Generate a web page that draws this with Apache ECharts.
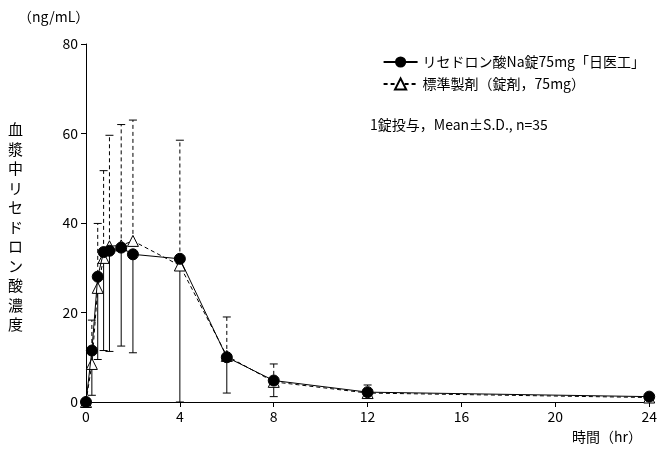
<!DOCTYPE html>
<html><head><meta charset="utf-8">
<script src="https://cdn.jsdelivr.net/npm/echarts@6/dist/echarts.min.js"></script>
<style>html,body{margin:0;padding:0;background:#fff}#c{width:660px;height:458px}</style>
</head><body><div id="c"></div>
<script>
const times = [0, 0.25, 0.5, 0.75, 1, 1.5, 2, 4, 6, 8, 12, 24];
const testMean = [0, 11.5, 28, 33.5, 33.8, 34.5, 33, 32, 10, 4.8, 2.2, 1.2];
const testSD = [0, 10, 18.5, 22, 22.5, 22, 22, 32, 8, 3.6, 1, 0.3];
const refMean = [0, 8.5, 25.5, 32.2, 34.8, 35, 36, 30.5, 10.3, 4.5, 2, 1];
const refSD = [0, 9.8, 14.4, 19.5, 24.8, 27, 27, 28, 8.7, 4, 1.8, 0.5];
const testName = 'リセドロン酸Na錠75mg「日医工」';
const refName = '標準製剤（錠剤，75mg）';

const font = '"Noto Sans CJK JP", "Noto Sans", sans-serif';

function errData(mean, sd, dir) {
  return times.map((t, i) => [t, mean[i], mean[i] + dir * sd[i]]);
}
function errRender(dashed) {
  return function (params, api) {
    const p0 = api.coord([api.value(0), api.value(1)]);
    const p1 = api.coord([api.value(0), api.value(2)]);
    if (Math.abs(p1[1] - p0[1]) < 1) return;
    const style = { stroke: '#000', lineWidth: 1, lineDash: dashed ? [4, 3] : null };
    return {
      type: 'group',
      children: [
        { type: 'line', shape: { x1: p0[0], y1: p0[1], x2: p1[0], y2: p1[1] }, style: style },
        { type: 'line', shape: { x1: p1[0] - 4, y1: p1[1], x2: p1[0] + 4, y2: p1[1] }, style: { stroke: '#000', lineWidth: 1 } }
      ]
    };
  };
}

const chart = echarts.init(document.getElementById('c'));
chart.setOption({
  animation: false,
  textStyle: { fontFamily: font },
  grid: { left: 86, right: 9, top: 44, bottom: 56 },
  xAxis: {
    type: 'value', min: 0, max: 24, interval: 4,
    axisLine: { lineStyle: { color: '#000' } },
    axisTick: { inside: false, lineStyle: { color: '#000' } },
    axisLabel: { color: '#000', fontSize: 14, fontFamily: font },
    splitLine: { show: false }
  },
  yAxis: {
    type: 'value', min: 0, max: 80, interval: 20,
    axisLine: { show: true, lineStyle: { color: '#000' } },
    axisTick: { show: true, lineStyle: { color: '#000' } },
    axisLabel: { color: '#000', fontSize: 14, fontFamily: font },
    splitLine: { show: false }
  },
  legend: {
    orient: 'vertical', right: 10, top: 50, itemGap: 8, itemWidth: 34,
    textStyle: { color: '#000', fontSize: 14, fontFamily: font },
    data: [testName, refName]
  },
  graphic: [
    { type: 'text', left: 18, top: 10, style: { text: '（ng/mL）', fontSize: 14, fontFamily: font, fill: '#000' } },
    { type: 'text', left: 8, top: 120, style: { text: '血漿中リセドロン酸濃度'.split('').join('\n'), fontSize: 15, lineHeight: 19.5, fontFamily: font, fill: '#000' } },
    { type: 'text', left: 572, top: 430, style: { text: '時間（hr）', fontSize: 14, fontFamily: font, fill: '#000' } },
    { type: 'text', left: 370, top: 118, style: { text: '1錠投与，Mean±S.D., n=35', fontSize: 14, fontFamily: font, fill: '#000' } }
  ],
  series: [
    { type: 'custom', renderItem: errRender(false), data: errData(testMean, testSD, -1), z: 1, silent: true },
    { type: 'custom', renderItem: errRender(true), data: errData(refMean, refSD, 1), z: 1, silent: true },
    {
      name: refName, type: 'line', data: times.map((t, i) => [t, refMean[i]]),
      symbol: 'triangle', symbolSize: 11,
      lineStyle: { color: '#000', width: 1, type: [4, 3] },
      itemStyle: { color: '#fff', borderColor: '#000', borderWidth: 1 }, z: 3
    },
    {
      name: testName, type: 'line', data: times.map((t, i) => [t, testMean[i]]),
      symbol: 'circle', symbolSize: 11,
      lineStyle: { color: '#000', width: 1 },
      itemStyle: { color: '#000', borderColor: '#000' }, z: 4
    }
  ]
});
</script></body></html>
